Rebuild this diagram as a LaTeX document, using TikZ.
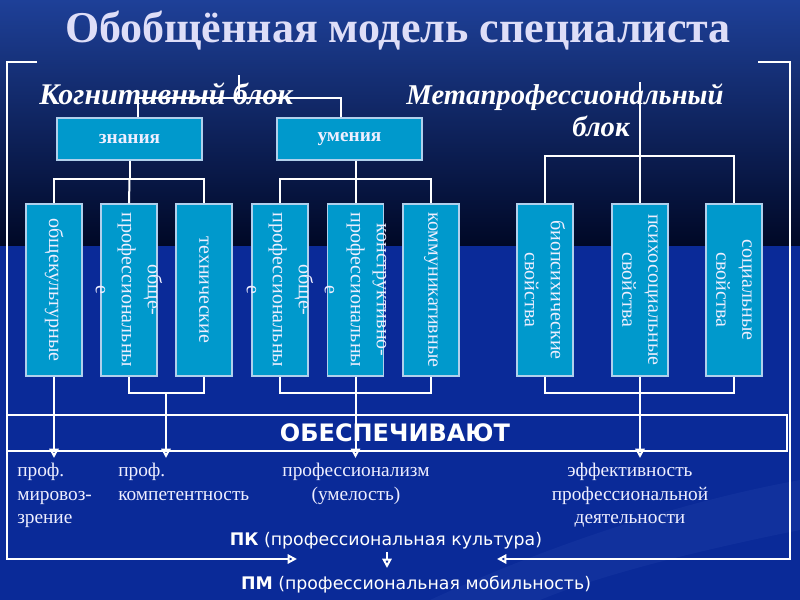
\documentclass[tikz,border=0pt]{standalone}
\usepackage{fontspec}
\setmainfont{Liberation Serif}
\newfontfamily\dejavu{DejaVu Sans}
\usetikzlibrary{arrows.meta,calc}
\definecolor{boxfill}{RGB}{0,153,204}
\definecolor{boxedge}{RGB}{176,208,236}
\definecolor{bgtop}{RGB}{30,64,152}
\definecolor{bgmid}{RGB}{0,8,38}
\definecolor{bglow}{RGB}{10,42,152}
\definecolor{swoosh}{RGB}{60,90,190}
\definecolor{titlecol}{RGB}{222,222,248}
\definecolor{txt}{RGB}{238,238,255}
\begin{document}
\begin{tikzpicture}[x=0.75pt,y=-0.75pt,
  ln/.style={draw=white, line width=1.5pt},
  arr/.style={ln, -{Triangle[open,length=7pt,width=7pt]}},
  cbox/.style={rectangle, fill=boxfill, draw=boxedge, line width=0.9pt, minimum width=42pt, minimum height=129pt, inner sep=0pt},
  hbox/.style={rectangle, fill=boxfill, draw=boxedge, line width=0.9pt, minimum width=108.75pt, minimum height=31.5pt, inner sep=0pt, text=txt, font=\fontsize{14.5}{17}\selectfont\bfseries},
  vtext/.style={rotate=-90, align=center, inner sep=0pt, text=txt, font=\fontsize{15}{19.5}\selectfont},
  blk/.style={inner sep=0pt, text=white, font=\bfseries\itshape},
  res/.style={inner sep=0pt, text=txt, font=\fontsize{14.5}{17.6}\selectfont},
  pktext/.style={inner sep=0pt, text=white, font=\dejavu\fontsize{13}{15}\selectfont}
]
\useasboundingbox (0,0) rectangle (800,600);
% background
\shade[top color=bgtop, bottom color=bgmid] (0,0) rectangle (800,246);
\fill[bglow] (0,246) rectangle (800,600);
\fill[swoosh, opacity=0.15] (430,600) .. controls (560,540) and (690,500) .. (800,480) -- (800,530) .. controls (700,550) and (600,575) .. (540,600) -- cycle;

% title
\node[inner sep=0pt, text=titlecol, font=\fontsize{33}{36}\selectfont\bfseries, anchor=base] (title) at (398,42) {Обобщённая модель специалиста};

% block headings
\node[blk, font=\fontsize{22.5}{25}\selectfont\bfseries\itshape, anchor=base west] (kog) at (39,104) {Когнитивный блок};
\node[blk, font=\fontsize{21.5}{24}\selectfont\bfseries\itshape, anchor=north, align=center] (meta) at (565,84) {Метапрофессиональный\\\hspace*{54pt}блок};

% upper boxes
\node[hbox] (zn) at (129.5,139) {знания};
\node[hbox] (um) at (349.5,139) {умения};

% vertical boxes
\node[cbox] (b1) at (54,290) {};
\node[cbox] (b2) at (129,290) {};
\node[cbox] (b3) at (204,290) {};
\node[cbox] (b4) at (280,290) {};
\node[cbox] (b5) at (355.5,290) {};
\node[cbox] (b6) at (431,290) {};
\node[cbox] (b7) at (545,290) {};
\node[cbox] (b8) at (640,290) {};
\node[cbox] (b9) at (734,290) {};
\node[vtext] (b1t) at (b1) {общекультурные};
\node[vtext] (b2t) at (b2) {обще-\\профессиональны\\е};
\node[vtext] (b3t) at (b3) {технические};
\node[vtext] (b4t) at (b4) {обще-\\профессиональны\\е};
\node[vtext] (b5t) at (b5) {конструктивно-\\профессиональны\\е};
\node[vtext] (b6t) at (b6) {коммуникативные};
\node[vtext] (b7t) at (b7) {биопсихические\\свойства};
\node[vtext] (b8t) at (b8) {психосоциальные\\свойства};
\node[vtext] (b9t) at (b9) {социальные\\свойства};

% ОБЕСПЕЧИВАЮТ
\node[draw=white, line width=1.5pt, minimum width=585pt, minimum height=27pt, inner sep=0pt] (ob) at (397,433) {};
\node[inner sep=0pt, text=white, font=\dejavu\fontsize{18}{21}\selectfont\bfseries] (obt) at (395,433) {ОБЕСПЕЧИВАЮТ};

% results
\node[res, anchor=north west, align=left] (t1) at (17,463) {проф.\\мировоз-\\зрение};
\node[res, anchor=north west, align=left] (t2) at (118,463) {проф.\\компетентность};
\node[res, anchor=north, align=center] (t3) at (356,463) {профессионализм\\(умелость)};
\node[res, anchor=north, align=center] (t4) at (630,463) {эффективность\\профессиональной\\деятельности};

\node[pktext] (pk) at (386,541) {\textbf{ПК} (профессиональная культура)};
\node[pktext] (pm) at (416,585) {\textbf{ПМ} (профессиональная мобильность)};

% coordinates
\coordinate (kt) at (239,75);
\coordinate (kj) at (239,98);
\coordinate (zj) at (129.5,179);
\coordinate (uj) at (355.5,179);
\coordinate (mt) at (640,82);
\coordinate (mj) at (640,156);
\coordinate (j23) at (166,393);
\coordinate (j456) at (355.5,393);
\coordinate (j789) at (640,393);
\coordinate (a1) at (54,458);
\coordinate (a2) at (166,458);
\coordinate (a3) at (355.5,458);
\coordinate (a4) at (640,458);
\coordinate (fa) at (37,62);
\coordinate (fb) at (7,62);
\coordinate (fc) at (7,559);
\coordinate (fl) at (297,559);
\coordinate (ga) at (758,62);
\coordinate (gb) at (790,62);
\coordinate (gc) at (790,559);
\coordinate (gl) at (497,559);
\coordinate (pa) at (387,552);
\coordinate (pb) at (387,568);

% frame
\draw[arr] (fa) -- (fb) -- (fc) -- (fl);
\draw[arr] (ga) -- (gb) -- (gc) -- (gl);
\draw[arr] (pa) -- (pb);

% top connectors
\draw[ln] (kt) -- (kj);
\draw[ln] ([xshift=6.4pt]zn.north) |- (kj) -| ([xshift=-6.4pt]um.north);
\draw[ln] (zn.south) -- (zj);
\draw[ln] (b1.north) |- (zj) -| (b3.north);
\draw[ln] (zj) -- (b2.north);
\draw[ln] (um.south -| b5.north) -- (b5.north);
\draw[ln] (b4.north) |- (uj) -| (b6.north);
\draw[ln] (mt) -- (b8.north);
\draw[ln] (b7.north) |- (mj) -| (b9.north);

% bottom connectors
\draw[arr] (b1.south) -- (a1);
\draw[ln] (b2.south) |- (j23) -| (b3.south);
\draw[arr] (j23) -- (a2);
\draw[ln] (b4.south) |- (j456) -| (b6.south);
\draw[arr] (b5.south) -- (a3);
\draw[ln] (b7.south) |- (j789) -| (b9.south);
\draw[arr] (b8.south) -- (a4);
\end{tikzpicture}
\end{document}
